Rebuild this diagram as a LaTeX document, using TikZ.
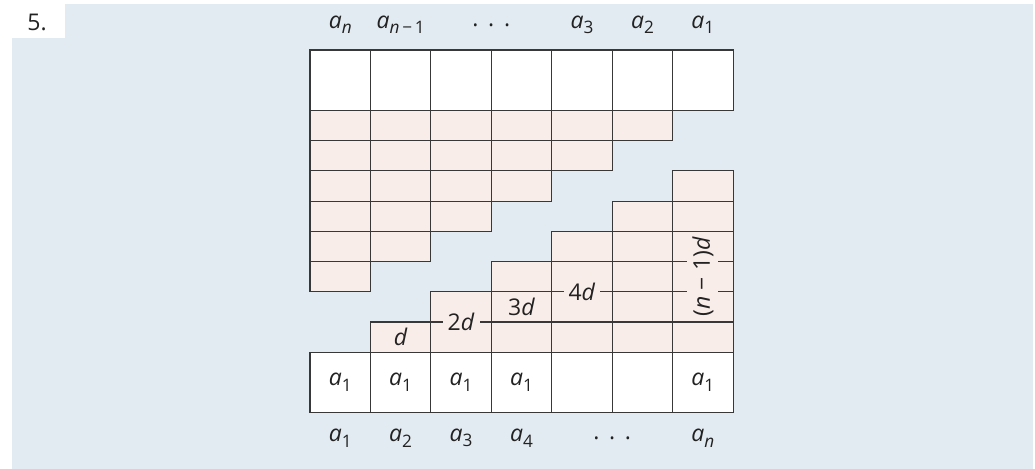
\documentclass[tikz,border=0pt]{standalone}
\usepackage{fontspec}
\setmainfont{Open Sans}
\definecolor{bgblue}{HTML}{E3EBF2}
\definecolor{cellpink}{HTML}{F9EDE9}
\definecolor{ink}{HTML}{222222}
\newcommand\sbs[1]{\raisebox{-0.45ex}{\fontsize{8.6}{9}\selectfont #1}}
\newcommand\va[1]{\textit{a}\sbs{#1}}
\newcommand\dotsx{.\hspace{0.42em}.\hspace{0.42em}.}
\begin{document}
\begin{tikzpicture}[x=0.5pt,y=-0.5pt,
  txt/.style={text=ink,font=\fontsize{11.5}{13}\selectfont,inner sep=0pt},
  lbl/.style={txt,fill=cellpink,inner sep=2.5pt},
  gridline/.style={draw=ink!90,line width=0.55pt}]
\useasboundingbox (0,0) rectangle (1035,469);
\fill[bgblue] (12,4) rectangle (1033,469);
\fill[white] (0,0) rectangle (65,38);
\node[txt] (num) at (37,22) {5.};
\begin{scope}[shift={(310,50)},x=15.11pt,y=-15.11pt]
  % top row
  \foreach \j in {0,...,6}
    \draw[gridline,fill=white] (2*\j,0) rectangle (2*\j+2,2);
  % top-left staircase
  \foreach \r in {1,...,6}{
    \pgfmathtruncatemacro\last{6-\r}
    \foreach \j in {0,...,\last}
      \draw[gridline,fill=cellpink] (2*\j,1+\r) rectangle (2*\j+2,2+\r);
  }
  % bottom-right staircase
  \foreach \j in {1,...,6}{
    \foreach \i in {1,...,\j}
      \draw[gridline,fill=cellpink] (2*\j,10-\i) rectangle (2*\j+2,11-\i);
  }
  % bottom row
  \foreach \j in {0,...,6}
    \draw[gridline,fill=white] (2*\j,10) rectangle (2*\j+2,12);
  % labels in the staircase
  \node[lbl] (d1) at (3,9.5) {\textit{d}};
  \node[lbl] (d2) at (5,9) {2\textit{d}};
  \node[lbl] (d3) at (7,8.5) {3\textit{d}};
  \node[lbl] (d4) at (9,8) {4\textit{d}};
  \node[lbl,rotate=90] (dn) at (13,7.5) {(\textit{n} − 1)\textit{d}};
  % bottom row entries
  \node[txt] (b1) at (1,11) {\va{1}};
  \node[txt] (b2) at (3,11) {\va{1}};
  \node[txt] (b3) at (5,11) {\va{1}};
  \node[txt] (b4) at (7,11) {\va{1}};
  \node[txt] (b7) at (13,11) {\va{1}};
  % top labels
  \node[txt] (t1) at (1,-0.83) {\va{\textit{n}}};
  \node[txt] (t2) at (3,-0.83) {\va{\textit{n}\,−\,1}};
  \node[txt] (t3) at (6,-0.83) {\dotsx};
  \node[txt] (t5) at (9,-0.83) {\va{3}};
  \node[txt] (t6) at (11,-0.83) {\va{2}};
  \node[txt] (t7) at (13,-0.83) {\va{1}};
  % bottom labels
  \node[txt] (u1) at (1,12.84) {\va{1}};
  \node[txt] (u2) at (3,12.84) {\va{2}};
  \node[txt] (u3) at (5,12.84) {\va{3}};
  \node[txt] (u4) at (7,12.84) {\va{4}};
  \node[txt] (u5) at (10,12.84) {\dotsx};
  \node[txt] (u7) at (13,12.84) {\va{\textit{n}}};
\end{scope}
\end{tikzpicture}
\end{document}
